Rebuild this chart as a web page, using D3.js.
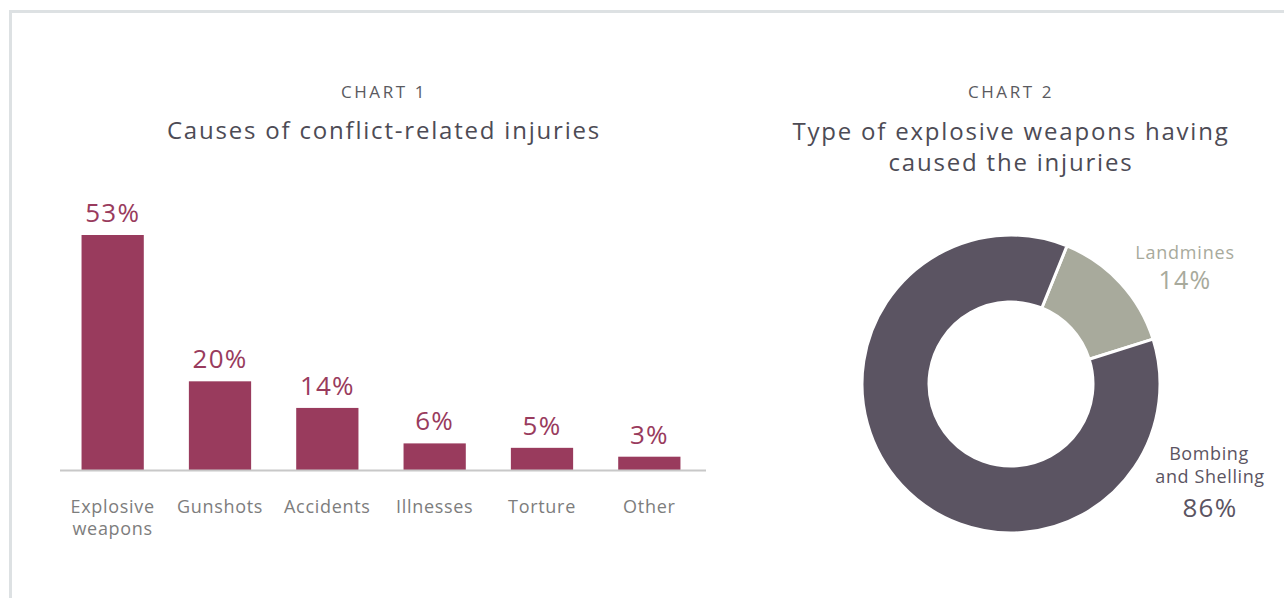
<!DOCTYPE html>
<html><head><meta charset="utf-8">
<script src="https://cdn.jsdelivr.net/npm/d3@7"></script>
<style>
html,body{margin:0;padding:0;background:#fff;}
svg{display:block;font-family:"Open Sans",sans-serif;}
</style></head><body>
<svg id="c" width="1284" height="598"></svg>
<script>
const barCategories = [["Explosive","weapons"],["Gunshots"],["Accidents"],["Illnesses"],["Torture"],["Other"]];
const barValues = [53, 20, 14, 6, 5, 3];
const barLabels = ["53%","20%","14%","6%","5%","3%"];
const donutCategories = ["Landmines","Bombing and Shelling"];
const donutValues = [14, 86];
const donutLabelLines = [["Landmines"],["Bombing","and Shelling"]];
const donutPctLabels = ["14%","86%"];

const svg = d3.select("#c");
// frame
svg.append("rect").attr("x",10.5).attr("y",11.5).attr("width",1300).attr("height",620)
  .attr("fill","none").attr("stroke","#dde1e3").attr("stroke-width",3);

// Chart 1 titles
svg.append("text").attr("x",384).attr("y",98).attr("text-anchor","middle")
  .attr("font-size",17).attr("letter-spacing",2.6).attr("fill","#5a5a60").text("CHART 1");
svg.append("text").attr("x",384).attr("y",139).attr("text-anchor","middle")
  .attr("font-size",24).attr("font-weight",500).attr("letter-spacing",1.8).attr("fill","#4d4b55").text("Causes of conflict-related injuries");

// bar chart
const x = d3.scaleBand().domain(barCategories.map(d=>d.join(" "))).range([59,703]).paddingInner(0.42).paddingOuter(0.21);
const y = d3.scaleLinear().domain([0,53]).range([470,235]);
const barColor = "#993b5d";
const g1 = svg.append("g");
g1.selectAll("rect.bar").data(barValues).join("rect").attr("class","bar")
  .attr("x",(d,i)=>x(barCategories[i].join(" "))).attr("width",x.bandwidth())
  .attr("y",d=>y(d)).attr("height",d=>y(0)-y(d)).attr("fill",barColor);
g1.selectAll("text.val").data(barValues).join("text").attr("class","val")
  .attr("x",(d,i)=>x(barCategories[i].join(" "))+x.bandwidth()/2).attr("y",d=>y(d)-13)
  .attr("text-anchor","middle").attr("font-size",26).attr("letter-spacing",1.2).attr("fill",barColor).text((d,i)=>barLabels[i]);
g1.append("line").attr("x1",60).attr("x2",706).attr("y1",470.5).attr("y2",470.5)
  .attr("stroke","#c8c8c8").attr("stroke-width",2);
const cat = g1.selectAll("text.cat").data(barCategories).join("text").attr("class","cat")
  .attr("x",d=>x(d.join(" "))+x.bandwidth()/2).attr("y",513)
  .attr("text-anchor","middle").attr("font-size",18).attr("letter-spacing",0.7).attr("fill","#7d7d7d");
cat.selectAll("tspan").data(d=>d).join("tspan")
  .attr("x",function(){return this.parentNode.getAttribute("x");})
  .attr("dy",(d,i)=>i===0?0:22).text(d=>d);

// Chart 2 titles
svg.append("text").attr("x",1011).attr("y",98).attr("text-anchor","middle")
  .attr("font-size",17).attr("letter-spacing",2.6).attr("fill","#5a5a60").text("CHART 2");
const t2 = svg.append("text").attr("x",1011).attr("y",140).attr("text-anchor","middle")
  .attr("font-size",24).attr("font-weight",500).attr("letter-spacing",1.8).attr("fill","#4d4b55");
t2.append("tspan").attr("x",1011).attr("dy",0).text("Type of explosive weapons having");
t2.append("tspan").attr("x",1011).attr("dy",31).text("caused the injuries");

// donut
const donutColors = d3.scaleOrdinal().domain(donutCategories).range(["#a8aa9c","#5b5462"]);
const cx = 1011, cy = 384;
const pie = d3.pie().sort(null).value(d=>d).startAngle(0.385).endAngle(0.385+2*Math.PI);
const arc = d3.arc().innerRadius(82).outerRadius(149);
const g2 = svg.append("g").attr("transform",`translate(${cx},${cy})`);
g2.selectAll("path").data(pie(donutValues)).join("path")
  .attr("d",arc).attr("fill",(d,i)=>donutColors(donutCategories[i]))
  .attr("stroke","#fff").attr("stroke-width",3);

// donut labels
const lm = svg.append("text").attr("text-anchor","middle").attr("fill",donutColors(donutCategories[0]));
lm.append("tspan").attr("x",1185).attr("y",259).attr("font-size",18).attr("letter-spacing",0.8).text(donutLabelLines[0][0]);
lm.append("tspan").attr("x",1185).attr("y",289).attr("font-size",25).attr("letter-spacing",1.2).text(donutPctLabels[0]);
const bs = svg.append("text").attr("text-anchor","middle").attr("fill",donutColors(donutCategories[1]));
bs.append("tspan").attr("x",1209).attr("y",460).attr("font-size",18).attr("letter-spacing",0.6).text(donutLabelLines[1][0]);
bs.append("tspan").attr("x",1210).attr("y",483).attr("font-size",18).attr("letter-spacing",0.6).text(donutLabelLines[1][1]);
bs.append("tspan").attr("x",1210).attr("y",517).attr("font-size",26).attr("letter-spacing",1.3).text(donutPctLabels[1]);
</script>
</body></html>
